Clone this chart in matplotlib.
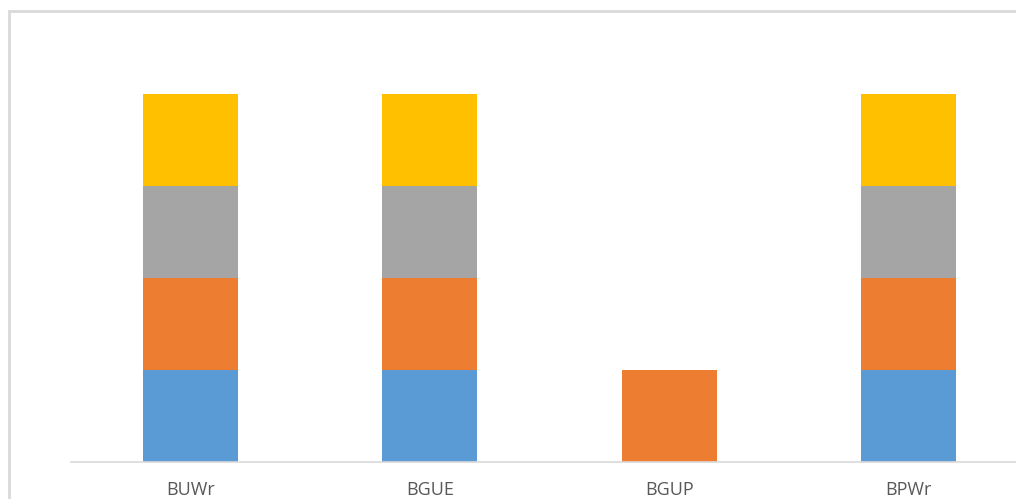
import matplotlib
matplotlib.use("Agg")
import matplotlib.pyplot as plt
from matplotlib.patches import Rectangle

categories = ["BUWr", "BGUE", "BGUP", "BPWr"]
series_1 = [1, 1, 0, 1]
series_2 = [1, 1, 1, 1]
series_3 = [1, 1, 0, 1]
series_4 = [1, 1, 0, 1]

colors = ["#5B9BD5", "#ED7D31", "#A5A5A5", "#FFC000"]

W, H = 1016, 499
fig = plt.figure(figsize=(W / 100, H / 100), dpi=100)

# plot area in pixel terms
left_px, right_px, base_px, top_px = 71, 1028, 462, 48
ax = fig.add_axes([left_px / W, (H - base_px) / H,
                   (right_px - left_px) / W, (base_px - top_px) / H])

x = list(range(len(categories)))
bottom = [0] * len(categories)
for vals, c in zip([series_1, series_2, series_3, series_4], colors):
    ax.bar(x, vals, width=0.3975, bottom=bottom, color=c, linewidth=0)
    bottom = [b + v for b, v in zip(bottom, vals)]

ax.set_xlim(-0.5, 3.5)
ax.set_ylim(0, 4.5)
ax.set_yticks([])
ax.set_xticks(x)
ax.set_xticklabels(categories, fontfamily="Open Sans", fontsize=13, color="#595959")
ax.tick_params(axis="x", length=0, pad=14)
for s in ["top", "right", "left"]:
    ax.spines[s].set_visible(False)
ax.spines["bottom"].set_color("#D9D9D9")
ax.spines["bottom"].set_linewidth(1.2)

# chart border
fig.patches.append(Rectangle((9 / W, -0.1), 1.2, (H - 11) / H + 0.1,
                             transform=fig.transFigure, fill=False,
                             edgecolor="#D9D9D9", linewidth=2))

fig.savefig("out.png", dpi=100)
